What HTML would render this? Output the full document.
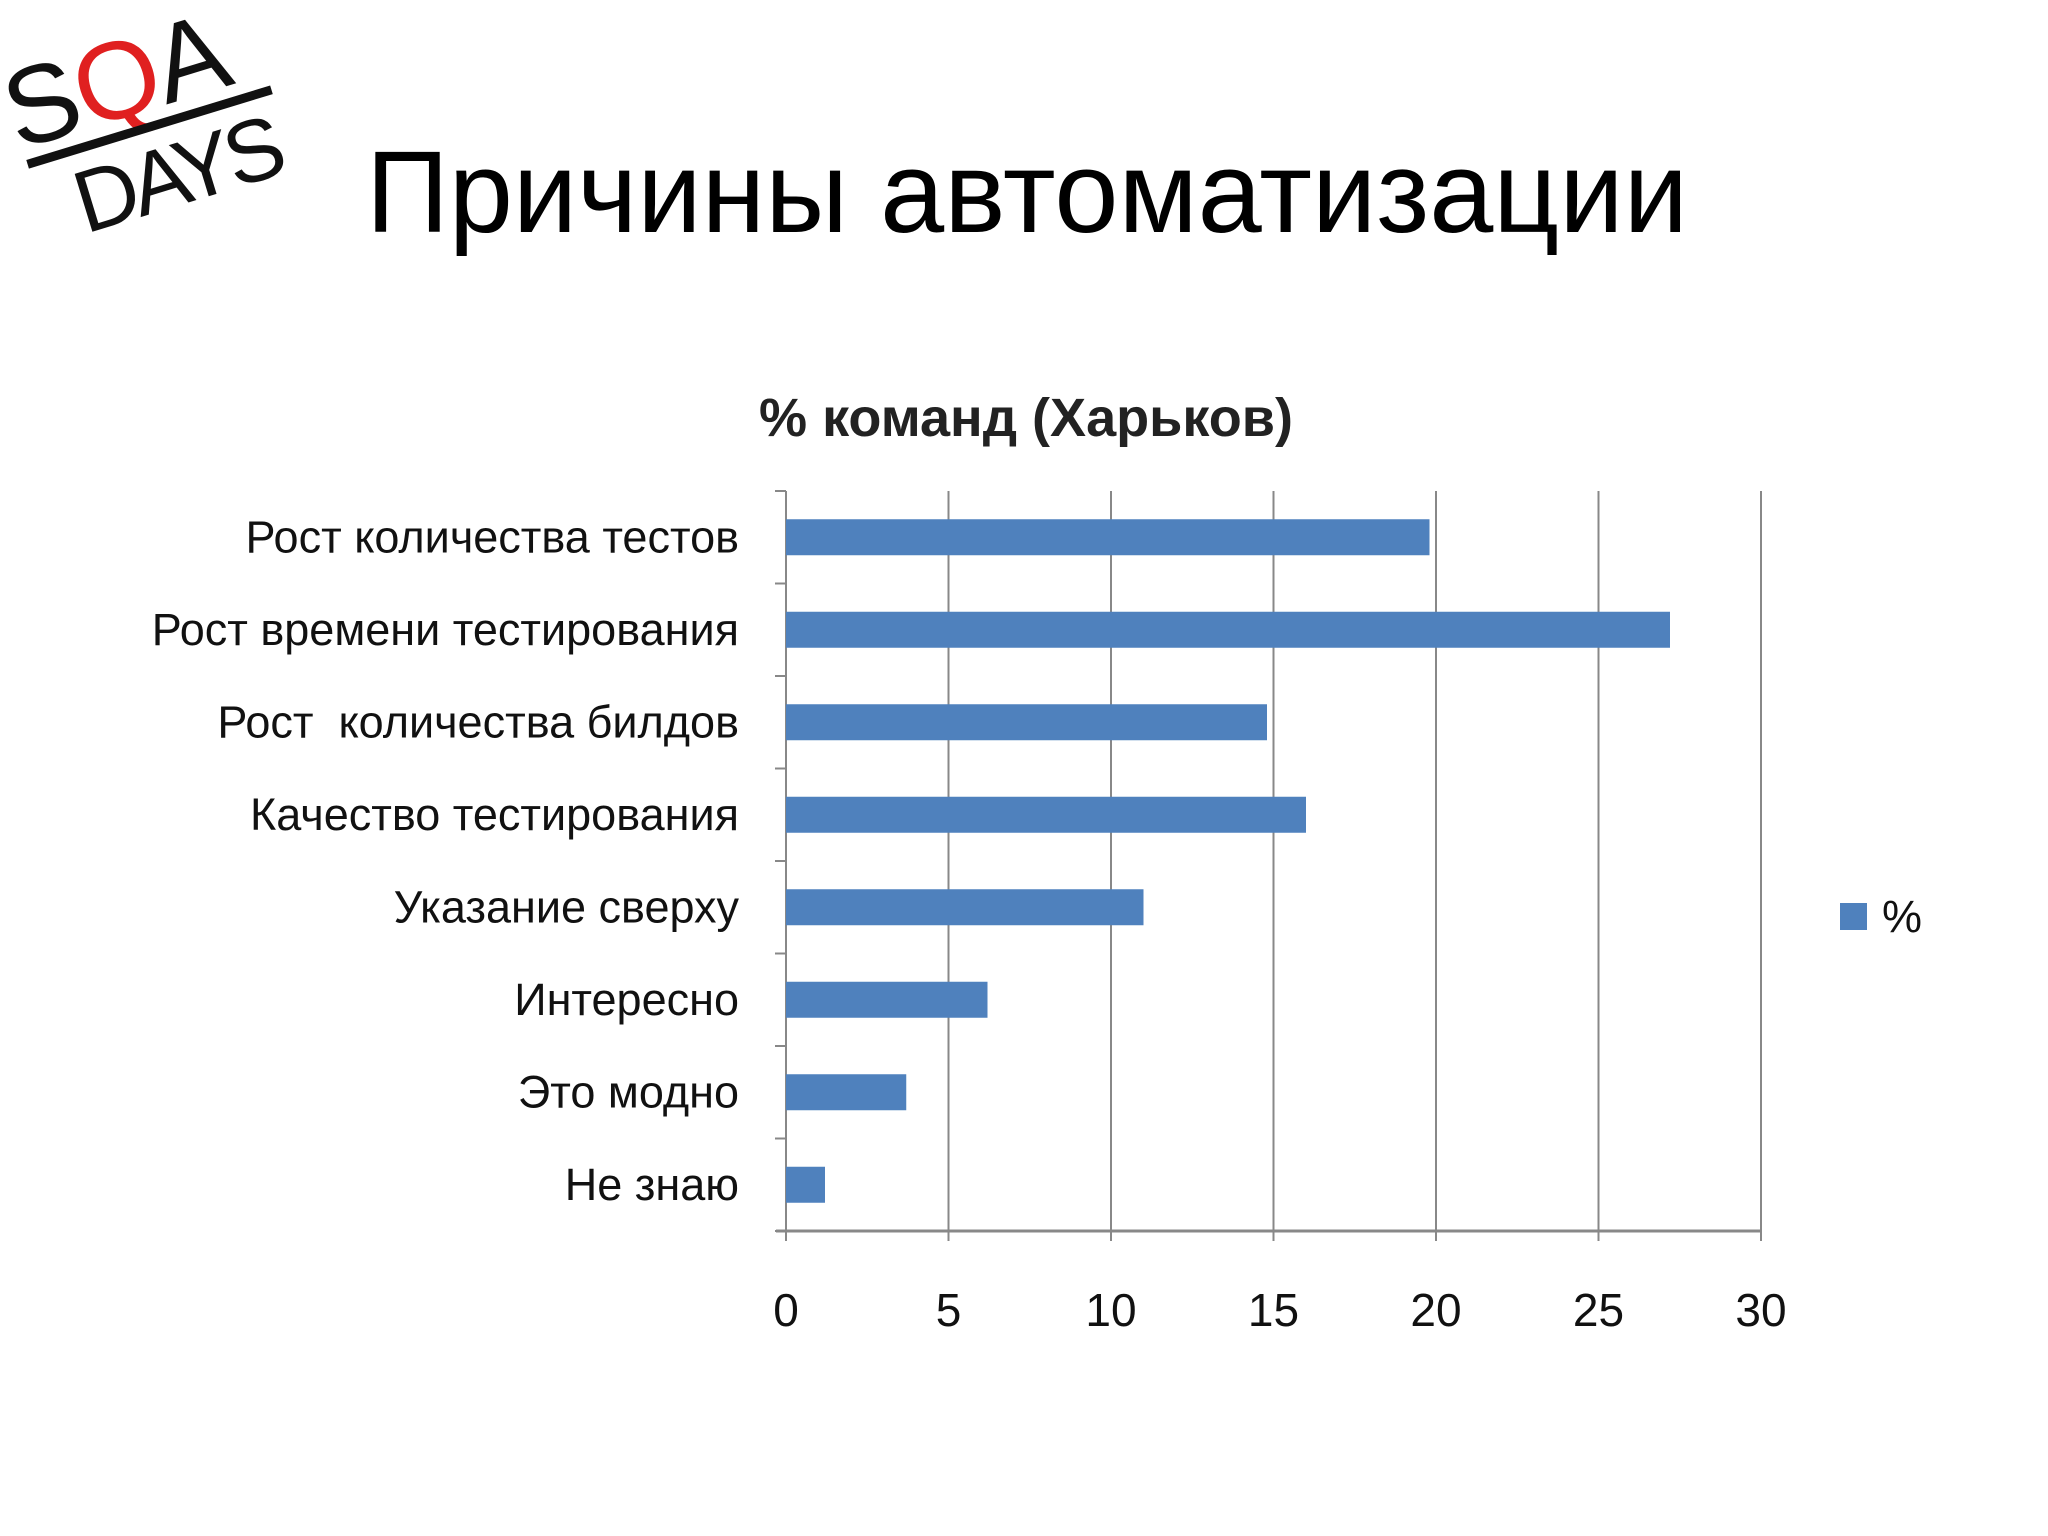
<!DOCTYPE html>
<html><head><meta charset="utf-8"><style>
html,body{margin:0;padding:0;background:#fff;}
svg{display:block;font-family:"Liberation Sans",sans-serif;}
</style></head><body>
<svg id="s" width="2048" height="1536" viewBox="0 0 2048 1536">
<g transform="translate(18,150) rotate(-17)">
<text x="0" y="0" font-size="110" fill="#111">S</text>
<text x="72" y="0" font-size="110" fill="#e02020">Q</text>
<text x="155" y="0" font-size="110" fill="#111">A</text>
<rect x="5" y="12" width="255" height="9" fill="#111"/>
<text x="40" y="100" font-size="88" fill="#111" textLength="215">DAYS</text>
</g>
<text x="366" y="232" font-size="116" fill="#000" textLength="1322" lengthAdjust="spacingAndGlyphs">Причины автоматизации</text>
<text x="1026" y="436" font-size="54" font-weight="bold" fill="#222" text-anchor="middle" textLength="534" lengthAdjust="spacingAndGlyphs">% команд (Харьков)</text>
<g id="plot"></g>
<rect x="1840" y="903" width="27" height="27" fill="#4f81bd"/>
<text x="1882" y="932" font-size="45" fill="#111">%</text>
</svg>
<script>
const categories=["Рост количества тестов","Рост времени тестирования","Рост  количества билдов","Качество тестирования","Указание сверху","Интересно","Это модно","Не знаю"];
const values=[19.8,27.2,14.8,16,11,6.2,3.7,1.2];
const ticks=[0,5,10,15,20,25,30];
const NS="http://www.w3.org/2000/svg";
const g=document.getElementById('plot');
const X0=786,X1=1761,Y0=491,Y1=1231,XMAX=30;
const x=v=>X0+(v/XMAX)*(X1-X0);
const band=(Y1-Y0)/categories.length;
const y=i=>Y0+band*i;
function mk(t,a){const e=document.createElementNS(NS,t);for(const k in a)e.setAttribute(k,a[k]);g.appendChild(e);return e;}
ticks.forEach((t,i)=>{
 const l=mk('line',{x1:x(t),x2:x(t),y1:Y0,y2:Y1+10,stroke:'#888','stroke-width':2});
 
 
 const tx=mk('text',{x:x(t),y:1326,'font-size':46,'text-anchor':'middle',fill:'#111'});
 tx.textContent=t;
 
 
});
const ax=mk('line',{x1:X0-10,x2:X1,y1:Y1,y2:Y1,stroke:'#888','stroke-width':3});


for(let i=0;i<=categories.length;i++){
 const tk=mk('line',{x1:X0-11,x2:X0,y1:y(i),y2:y(i),stroke:'#888','stroke-width':2});
 
 
}
categories.forEach((c,i)=>{
 const bh=36,cy=y(i)+band/2;
 const r=mk('rect',{x:X0,y:cy-bh/2,width:x(values[i])-X0,height:bh,fill:'#4f81bd'});
 
 
 const t=mk('text',{x:739,y:cy+15,'font-size':45,'text-anchor':'end',fill:'#111'});
 t.style.whiteSpace='pre';
 t.textContent=c;
 
 
});
</script>
</body></html>
